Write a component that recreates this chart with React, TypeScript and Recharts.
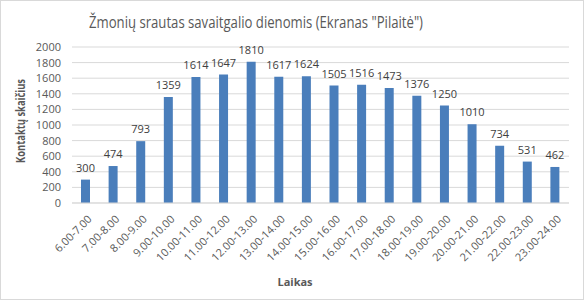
import React from "react";
import { BarChart, Bar, XAxis, YAxis, CartesianGrid, LabelList } from "recharts";

const timeSlots = [
  "6.00-7.00", "7.00-8.00", "8.00-9.00", "9.00-10.00", "10.00-11.00", "11.00-12.00",
  "12.00-13.00", "13.00-14.00", "14.00-15.00", "15.00-16.00", "16.00-17.00", "17.00-18.00",
  "18.00-19.00", "19.00-20.00", "20.00-21.00", "21.00-22.00", "22.00-23.00", "23.00-24.00",
];
const contacts = [300, 474, 793, 1359, 1614, 1647, 1810, 1617, 1624, 1505, 1516, 1473, 1376, 1250, 1010, 734, 531, 462];
const yTicks = [0, 200, 400, 600, 800, 1000, 1200, 1400, 1600, 1800, 2000];

const data = timeSlots.map((t, i) => ({ time: t, value: contacts[i] }));

const FONT = "'Open Sans', 'Noto Sans', sans-serif";
const TEXT = "#595959";

function AngledTick({ x, y, payload }: any) {
  return (
    <g transform={`translate(${x + 4},${y + 6})`}>
      <text
        transform="rotate(-45)"
        textAnchor="end"
        dy="0.35em"
        fontSize={11}
        fontFamily={FONT}
        fill={TEXT}
      >
        {payload.value}
      </text>
    </g>
  );
}

export default function App() {
  return (
    <div style={{ position: "absolute", left: 0, top: 0, width: 584, height: 300 }}>
      <BarChart
        width={584}
        height={300}
        data={data}
        margin={{ top: 47, right: 15, bottom: 0, left: 0 }}
        barCategoryGap="33%"
      >
        <CartesianGrid vertical={false} stroke="#d9d9d9" />
        <XAxis
          dataKey="time"
          height={97}
          interval={0}
          tickLine={false}
          axisLine={{ stroke: "#d9d9d9" }}
          tick={<AngledTick />}
        />
        <YAxis
          width={72}
          domain={[0, 2000]}
          ticks={yTicks}
          interval={0}
          axisLine={false}
          tickLine={false}
          tickSize={0}
          tickMargin={11}
          tick={{ fontSize: 11, fontFamily: FONT, fill: TEXT }}
        />
        <Bar dataKey="value" fill="#4a7ebb" barSize={9} isAnimationActive={false}>
          <LabelList
            dataKey="value"
            position="top"
            offset={8}
            style={{ fontSize: 11, fontFamily: FONT, fill: "#404040" }}
          />
        </Bar>
      </BarChart>
      <svg
        width={584}
        height={300}
        style={{ position: "absolute", left: 0, top: 0, pointerEvents: "none" }}
      >
        <rect x={0.5} y={0.5} width={583} height={299} fill="none" stroke="#d9d9d9" />
        <text
          x={256}
          y={28}
          textAnchor="middle"
          fontSize={16}
          fontFamily={FONT}
          fill={TEXT}
          textLength={334}
          lengthAdjust="spacingAndGlyphs"
        >
          Žmonių srautas savaitgalio dienomis (Ekranas "Pilaitė")
        </text>
        <text
          transform="translate(25,121) rotate(-90)"
          textAnchor="middle"
          fontSize={12}
          fontWeight="bold"
          fontFamily={FONT}
          fill={TEXT}
          textLength={84}
          lengthAdjust="spacingAndGlyphs"
        >
          Kontaktų skaičius
        </text>
        <text
          x={295}
          y={286}
          textAnchor="middle"
          fontSize={11}
          fontWeight="bold"
          fontFamily={FONT}
          fill={TEXT}
        >
          Laikas
        </text>
      </svg>
    </div>
  );
}
